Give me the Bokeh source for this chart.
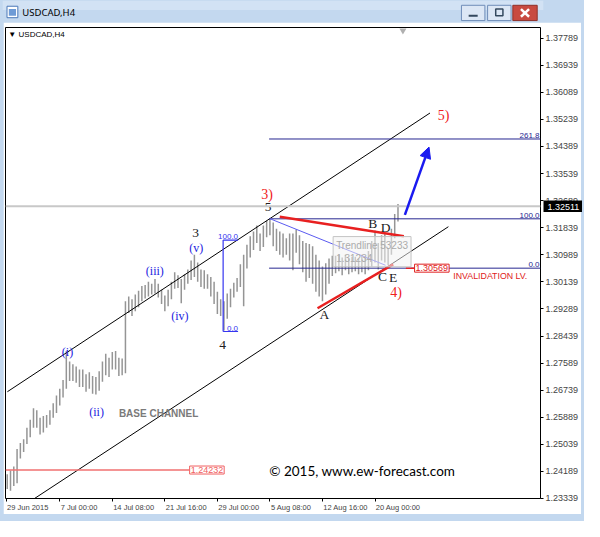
from bokeh.plotting import figure
from bokeh.models import (Range1d, FixedTicker, PrintfTickFormatter, Span, Label, Arrow,
                          NormalHead, GridBox)
from bokeh.layouts import column
from bokeh.core.properties import value
from bokeh.embed import file_html
from bokeh.resources import INLINE

# ---------------- data ----------------
# H4 bar number (0 = 29 Jun 2015 00:00), every second bar drawn
bar_index = list(range(4, 244, 2))
bar_high = [
    1.2410, 1.2422, 1.2434, 1.2489, 1.2508, 1.2520, 1.2556, 1.2581, 1.2617, 1.2611,
    1.2587, 1.2593, 1.2596, 1.2611, 1.2633, 1.2657, 1.2678, 1.2706, 1.2797, 1.2764,
    1.2755, 1.2748, 1.2739, 1.2739, 1.2724, 1.2730, 1.2718, 1.2715, 1.2733, 1.2764,
    1.2788, 1.2776, 1.2794, 1.2797, 1.2776, 1.2773, 1.2953, 1.2968, 1.2959, 1.2974,
    1.2986, 1.3001, 1.3004, 1.3014, 1.3008, 1.3023, 1.3008, 1.2989, 1.2971, 1.2989,
    1.3014, 1.3044, 1.3035, 1.3023, 1.3038, 1.3053, 1.3081, 1.3099, 1.3075, 1.3053,
    1.3050, 1.3038, 1.3029, 1.3014, 1.2983, 1.2959, 1.2953, 1.2977, 1.2992, 1.3011,
    1.3026, 1.3069, 1.3099, 1.3130, 1.3157, 1.3172, 1.3191, 1.3166, 1.3191, 1.3206,
    1.3212, 1.3200, 1.3181, 1.3172, 1.3166, 1.3151, 1.3166, 1.3166, 1.3178, 1.3160,
    1.3142, 1.3136, 1.3133, 1.3126, 1.3099, 1.3081, 1.3062, 1.3072, 1.3087, 1.3096,
    1.3096, 1.3099, 1.3090, 1.3099, 1.3087, 1.3093, 1.3093, 1.3087, 1.3099, 1.3090,
    1.3111, 1.3142, 1.3175, 1.3136, 1.3160, 1.3166, 1.3120, 1.3181, 1.3227, 1.3258,
]
bar_low = [
    1.2364, 1.2358, 1.2373, 1.2382, 1.2459, 1.2480, 1.2505, 1.2526, 1.2556, 1.2556,
    1.2535, 1.2541, 1.2556, 1.2565, 1.2587, 1.2602, 1.2626, 1.2651, 1.2678, 1.2703,
    1.2703, 1.2697, 1.2684, 1.2684, 1.2669, 1.2678, 1.2663, 1.2660, 1.2672, 1.2700,
    1.2721, 1.2715, 1.2739, 1.2739, 1.2718, 1.2721, 1.2727, 1.2916, 1.2907, 1.2922,
    1.2934, 1.2953, 1.2962, 1.2968, 1.2974, 1.2977, 1.2965, 1.2944, 1.2922, 1.2937,
    1.2959, 1.2992, 1.2995, 1.2947, 1.2989, 1.3008, 1.3020, 1.3029, 1.3014, 1.2998,
    1.2992, 1.2992, 1.2968, 1.2944, 1.2913, 1.2907, 1.2861, 1.2898, 1.2934, 1.2965,
    1.2983, 1.2998, 1.2937, 1.3056, 1.3090, 1.3114, 1.3136, 1.3111, 1.3123, 1.3154,
    1.3160, 1.3126, 1.3111, 1.3099, 1.3090, 1.3099, 1.3081, 1.3050, 1.3105, 1.3069,
    1.3044, 1.3014, 1.3026, 1.3008, 1.2983, 1.2968, 1.2953, 1.2974, 1.3008, 1.3032,
    1.3041, 1.3047, 1.3035, 1.3050, 1.3038, 1.3044, 1.3047, 1.3038, 1.3044, 1.3038,
    1.3050, 1.3062, 1.3075, 1.3053, 1.3081, 1.3075, 1.3066, 1.3099, 1.3151, 1.3203,
]
last_price = 1.32511

date_tick_pos = [3.4, 36, 68, 100, 132, 164, 196, 228]
date_tick_labels = ["29 Jun 2015", "7 Jul 00:00", "14 Jul 08:00", "21 Jul 16:00",
                    "29 Jul 00:00", "5 Aug 08:00", "12 Aug 16:00", "20 Aug 00:00"]
price_ticks = [1.23339, 1.24189, 1.25039, 1.25889, 1.26739, 1.27589, 1.28439, 1.29289,
               1.30139, 1.30989, 1.31839, 1.32689, 1.33539, 1.34389, 1.35239, 1.36089,
               1.36939, 1.37789]

# drawn objects (bar number, price)
upper_channel_x, upper_channel_y = [4.1, 261.5], [1.2669, 1.3544]
lower_channel_x, lower_channel_y = [20.7, 272.7], [1.2334, 1.3187]
fib_start = 163.5
fib_levels = [1.30569, 1.32118, 1.34624]
fib_names = ["0.0", "100.0", "261.8"]
small_fib_x = [135.5, 144.6]
small_fib_levels = [1.2858, 1.3145]
small_fib_names = ["0.0", "100.0"]
trend_x, trend_y = [164.1, 234.4], [1.3212, 1.3066]
red_upper_x, red_upper_y = [170.0, 245.6], [1.3218, 1.3157]
red_lower_x, red_lower_y = [193.0, 239.1], [1.2931, 1.3069]
support_level, support_end = 1.24232, 115.1
invalidation_level, invalidation_x = 1.30569, [246.8, 252.1]
arrow_from, arrow_to = (246.2, 1.3224), (260.9, 1.3437)

red_wave = ["5)", "3)", "4)"]
red_wave_x = [269.8, 162.3, 240.9]
red_wave_y = [1.3535, 1.3288, 1.2980]
black_wave = ["5", "3", "4", "A", "B", "C", "D", "E"]
black_wave_x = [162.9, 118.7, 135.2, 197.2, 226.7, 232.6, 234.4, 239.1]
black_wave_y = [1.3248, 1.3166, 1.2815, 1.2910, 1.3197, 1.3032, 1.3184, 1.3029]
blue_wave = ["(i)", "(ii)", "(iii)", "(iv)", "(v)"]
blue_wave_x = [40.7, 58.4, 93.9, 109.2, 119.2]
blue_wave_y = [1.2794, 1.2605, 1.3047, 1.2907, 1.3120]

# ---------------- layout / style constants ----------------
X0, X1 = 2.95, 328.8
Y0, Y1 = 1.23338, 1.38124
W_TOTAL, H_TITLE = 584, 22
MAIN_W, MAIN_H = 578, 492
MB_L, MB_R, MB_T, MB_B = 2, 39, 5, 16
SIDE, BOTTOM = 3, 7
# date labels sit to the right of their tick (MT4 style): label centre shift in bars
date_label_shift = [13.1, 11.7, 13.0, 13.0, 13.0, 12.9, 14.1, 14.1]
date_label_centres = [d + s for d, s in zip(date_tick_pos, date_label_shift)]

WIN = "#C3D8EF"
AX_FONT = "Liberation Sans"
SERIF = "Liberation Serif"

# ---------------- window title bar ----------------
tb = figure(width=W_TOTAL, height=H_TITLE, x_range=Range1d(0, 600), y_range=Range1d(23, 0),
            toolbar_location=None, output_backend="svg", min_border=0,
            x_axis_location=None, y_axis_location=None,
            outline_line_color=None, background_fill_color=WIN, border_fill_color=WIN)
tb.grid.visible = False
tb.quad(left=0, right=600, top=0, bottom=10, fill_color="#D2E2F4", line_color=None)
tb.quad(left=5, right=17, top=6, bottom=18, fill_color="white", line_color="#4A78B8")
tb.quad(left=7, right=15, top=9, bottom=16, fill_color="#6E9BD6", line_color=None)
tb.text(x=[22], y=[12.5], text=["USDCAD,H4"], text_font=value("Noto Sans"),
        text_font_size="9.5px", text_baseline="middle", text_color="black")
tb.quad(left=[509, 538], right=[535, 564], top=[5, 5], bottom=[21, 21],
        fill_color="#DCE7F5", line_color="#6F8DB8")
tb.quad(left=566, right=593, top=5, bottom=21, fill_color="#C84A40", line_color="#8E3029")
tb.segment(x0=517, y0=16, x1=527, y1=16, line_color="#34495E", line_width=2)
tb.quad(left=547, right=555, top=9, bottom=16, fill_color=None, line_color="#34495E", line_width=1.5)
tb.segment(x0=[575, 575], y0=[9, 17], x1=[584, 584], y1=[17, 9], line_color="white", line_width=2.5)

# ---------------- chart ----------------
p = figure(width=MAIN_W, height=MAIN_H, x_range=Range1d(X0, X1), y_range=Range1d(Y0, Y1),
           toolbar_location=None, output_backend="svg", y_axis_location="right",
           min_border_left=MB_L, min_border_right=MB_R, min_border_top=MB_T, min_border_bottom=MB_B,
           background_fill_color="white", border_fill_color="white",
           outline_line_color="black", outline_line_width=1, margin=(0, SIDE, BOTTOM, SIDE))
p.grid.visible = False

p.yaxis.ticker = FixedTicker(ticks=price_ticks)
p.yaxis.formatter = PrintfTickFormatter(format="%.5f")
p.yaxis.major_label_text_font = AX_FONT
p.yaxis.major_label_text_font_size = "9px"
p.yaxis.major_tick_out = 3
p.yaxis.major_tick_in = 0
p.yaxis.minor_tick_line_color = None
p.yaxis.axis_line_color = None
p.yaxis.major_label_standoff = 2

p.xaxis.ticker = FixedTicker(ticks=date_label_centres, minor_ticks=date_tick_pos)
p.xaxis.major_label_overrides = dict(zip(date_label_centres, date_tick_labels))
p.xaxis.major_label_text_font = AX_FONT
p.xaxis.major_label_text_font_size = "7.5px"
p.xaxis.major_tick_line_color = None
p.xaxis.major_tick_out = 3
p.xaxis.minor_tick_out = 3
p.xaxis.minor_tick_in = 0
p.xaxis.minor_tick_line_color = "black"
p.xaxis.axis_line_color = None
p.xaxis.major_label_standoff = 1

# current price line
p.add_layout(Span(location=last_price, dimension="width", line_color="#C8C8C8", line_width=2))

# price bars
p.segment(x0=bar_index, y0=bar_low, x1=bar_index, y1=bar_high, line_color="#959595", line_width=1.5)

# channel
p.line(upper_channel_x, upper_channel_y, line_color="black", line_width=1)
p.line(lower_channel_x, lower_channel_y, line_color="black", line_width=1)

# support line 1.24232
p.segment(x0=X0, y0=support_level, x1=support_end, y1=support_level, line_color="#F07070", line_width=1.5)
p.add_layout(Label(x=support_end, y=support_level, text="1.24232", text_align="left",
                   text_baseline="middle", text_color="#F06060", text_font=AX_FONT,
                   text_font_size="9px", background_fill_color="white",
                   border_line_color="#F06060", padding=1))

# fibonacci extension
FIB = "#262690"
p.segment(x0=[fib_start] * 3, y0=fib_levels, x1=[X1] * 3, y1=fib_levels, line_color=FIB, line_width=1)
p.text(x=[X1] * 3, y=fib_levels, text=fib_names, text_align="right", text_baseline="bottom",
       text_font=value(AX_FONT), text_font_size="8px", text_color=FIB, x_offset=-1, y_offset=-1)

# small fibonacci
SF = "#3535F0"
p.segment(x0=[small_fib_x[0]] * 2, y0=small_fib_levels, x1=[small_fib_x[1]] * 2, y1=small_fib_levels,
          line_color=SF, line_width=1.2)
p.segment(x0=small_fib_x[0], y0=small_fib_levels[0], x1=small_fib_x[0], y1=small_fib_levels[1],
          line_color=SF, line_width=1.2)
p.text(x=[small_fib_x[1]] * 2, y=small_fib_levels, text=small_fib_names, text_align="right",
       text_baseline="bottom", text_font=value(AX_FONT), text_font_size="8px", text_color=SF, y_offset=-1)

# triangle lines
p.line(trend_x, trend_y, line_color="#5A5AF0", line_width=1)
p.line(red_upper_x, red_upper_y, line_color="#E82020", line_width=2.5)
p.line(red_lower_x, red_lower_y, line_color="#E82020", line_width=2.5)

# invalidation
p.segment(x0=invalidation_x[0], y0=invalidation_level, x1=invalidation_x[1], y1=invalidation_level,
          line_color="#E82020", line_width=1.5)
p.add_layout(Label(x=invalidation_x[1], y=invalidation_level, text="1.30569", text_align="left",
                   text_baseline="middle", text_color="#E02020", text_font=AX_FONT,
                   text_font_size="9px", background_fill_color="white",
                   border_line_color="#E02020", padding=1))
p.text(x=[275.7], y=[1.3032], text=["INVALIDATION LV."], text_align="left", text_baseline="middle",
       text_font=value(AX_FONT), text_font_size="8.8px", text_color="#E02020")

# tooltip leftover
p.add_layout(Label(x=202.5, y=1.3156, text="Trendline 53233\n1.31234", text_align="left",
                   text_baseline="top", text_color="#ABABAB", text_font=AX_FONT,
                   text_font_size="10px", background_fill_color="#F2F2F2", background_fill_alpha=0.55,
                   border_line_color="#C4C4C4", padding=3))

# arrow
p.add_layout(Arrow(end=NormalHead(size=11, fill_color="#1A1AF0", line_color="#1A1AF0"),
                   x_start=arrow_from[0], y_start=arrow_from[1], x_end=arrow_to[0], y_end=arrow_to[1],
                   line_color="#1A1AF0", line_width=2.5))

# wave labels
p.text(x=red_wave_x, y=red_wave_y, text=red_wave, text_align="center", text_baseline="middle",
       text_font=value(SERIF), text_font_size="14px", text_color="#F02020")
p.text(x=black_wave_x, y=black_wave_y, text=black_wave, text_align="center", text_baseline="middle",
       text_font=value(SERIF), text_font_size="13.5px", text_color="#202020")
p.text(x=blue_wave_x, y=blue_wave_y, text=blue_wave, text_align="center", text_baseline="middle",
       text_font=value(SERIF), text_font_size="12px", text_color="#2222E0")

p.text(x=[96.2], y=[1.2602], text=["BASE CHANNEL"], text_align="center", text_baseline="middle",
       text_font=value(AX_FONT), text_font_size="10px", text_font_style="bold", text_color="#7A7A7A")
p.text(x=[220.2], y=[1.2419], text=["© 2015, www.ew-forecast.com"], text_align="center",
       text_baseline="middle", text_font=value("Lato"), text_font_size="13.5px", text_color="black")
p.text(x=[4.7], y=[1.3791], text=["▼ USDCAD,H4"], text_align="left", text_baseline="middle",
       text_font=value(AX_FONT), text_font_size="8px", text_color="black")
p.scatter(x=[245.0], y=[1.3803], marker="inverted_triangle", size=7, fill_color="#B0B0B0", line_color=None)

window = column(tb, p, styles={"background-color": WIN})

# ---------------- last-price box on the price scale (overlaid) ----------------
frame_h = MAIN_H - MB_T - MB_B
box_cy = H_TITLE + MB_T + (Y1 - last_price) / (Y1 - Y0) * frame_h
BOX_H, BOX_W = 12, 39
box_top = int(round(box_cy - BOX_H / 2))
box_left = SIDE + MAIN_W - MB_R + 1
pb = figure(width=BOX_W, height=BOX_H, x_range=Range1d(0, 1), y_range=Range1d(0, 1),
            toolbar_location=None, output_backend="svg", min_border=0,
            x_axis_location=None, y_axis_location=None, outline_line_color=None,
            background_fill_color="black", border_fill_color="black",
            margin=(box_top, 0, 0, box_left))
pb.grid.visible = False
pb.text(x=[0.1], y=[0.5], text=["1.32511"], text_baseline="middle", text_align="left",
        text_font=value(AX_FONT), text_font_size="9px", text_color="white")

layout = GridBox(children=[(window, 0, 0), (pb, 0, 0)])
open("out.html", "w").write(file_html(layout, INLINE))
